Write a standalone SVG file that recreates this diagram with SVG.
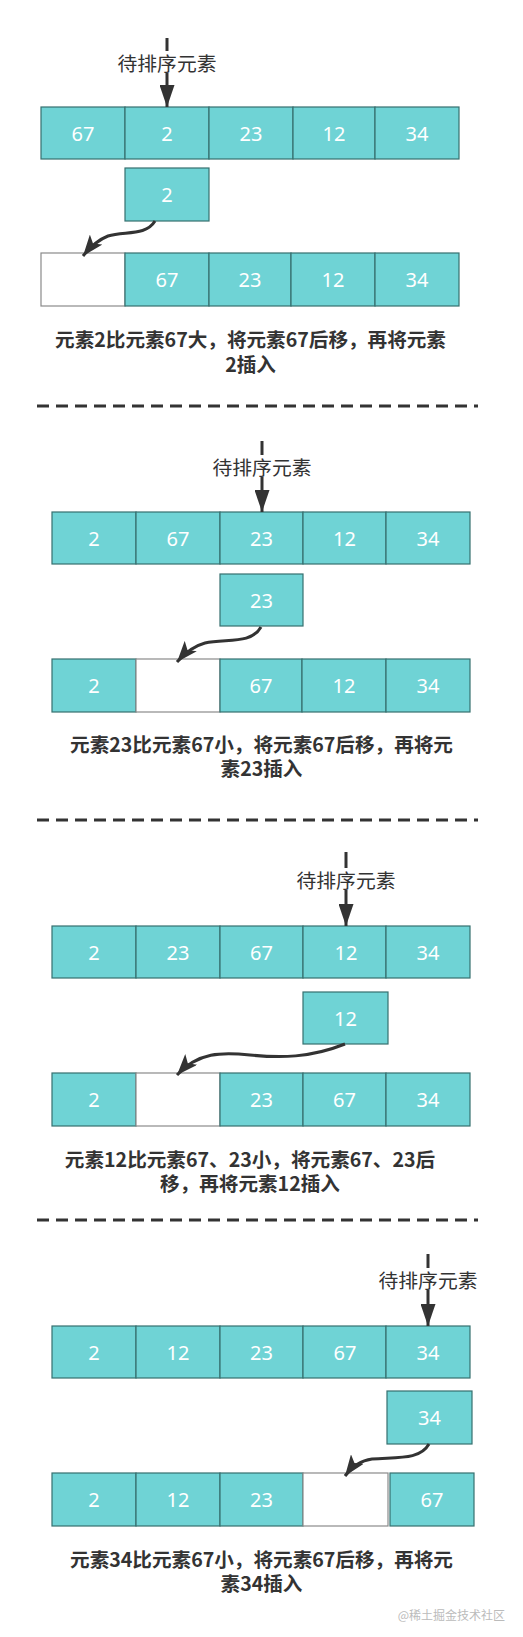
<svg xmlns="http://www.w3.org/2000/svg" width="523" height="1637" viewBox="0 0 523 1637">
<style>
.c{fill:#6fd3d5;stroke:#36706f;stroke-width:1.2}
.w{fill:#ffffff;stroke:#8a8a8a;stroke-width:1.2}
.t{font-family:"Noto Sans","Noto Sans CJK SC",sans-serif;font-size:20px;fill:#ffffff;text-anchor:middle;dominant-baseline:central}
.lb{font-family:"Noto Sans CJK SC",sans-serif;font-size:19.8px;fill:#333333;text-anchor:middle;dominant-baseline:central}
.cap{font-family:"Noto Sans CJK SC",sans-serif;font-size:19.6px;font-weight:bold;fill:#333333;text-anchor:middle;dominant-baseline:central}
.ln{fill:none;stroke:#333333;stroke-width:3}
.sep{fill:none;stroke:#333333;stroke-width:3;stroke-dasharray:12 7}
.wm{font-family:"Noto Sans CJK SC",sans-serif;font-size:12px;fill:#bbbbbb;text-anchor:end;dominant-baseline:central}
</style>
<defs>
<marker id="blk" markerUnits="userSpaceOnUse" viewBox="0 0 22 15" refX="22" refY="7.5" markerWidth="22" markerHeight="15" orient="auto">
<path d="M0,0 L22,7.5 L0,15 z" fill="#333333"/>
</marker>
<marker id="cls" markerUnits="userSpaceOnUse" viewBox="0 0 21 16" refX="21" refY="8" markerWidth="21" markerHeight="16" orient="auto">
<path d="M0,0 L21,8 L0,16 L5,8 z" fill="#333333"/>
</marker>
</defs>

<!-- Section 1 -->
<g id="s1-top">
<rect class="c" x="41" y="107" width="84" height="52"/><text class="t" x="83" y="133">67</text>
<rect class="c" x="125" y="107" width="84" height="52"/><text class="t" x="167" y="133">2</text>
<rect class="c" x="209" y="107" width="84" height="52"/><text class="t" x="251" y="133">23</text>
<rect class="c" x="293" y="107" width="82" height="52"/><text class="t" x="334" y="133">12</text>
<rect class="c" x="375" y="107" width="84" height="52"/><text class="t" x="417" y="133">34</text>
</g>
<g id="s1-pick">
<rect class="c" x="125" y="168" width="84" height="53"/><text class="t" x="167" y="194.5">2</text>
</g>
<g id="s1-bottom">
<rect class="w" x="41" y="253" width="84" height="53"/>
<rect class="c" x="125" y="253" width="84" height="53"/><text class="t" x="167" y="279.5">67</text>
<rect class="c" x="209" y="253" width="82" height="53"/><text class="t" x="250" y="279.5">23</text>
<rect class="c" x="291" y="253" width="84" height="53"/><text class="t" x="333" y="279.5">12</text>
<rect class="c" x="375" y="253" width="84" height="53"/><text class="t" x="417" y="279.5">34</text>
</g>
<g id="s1-caption">
<text class="cap" x="250.5" y="338">元素2比元素67大，将元素67后移，再将元素</text>
<text class="cap" x="250.5" y="363">2插入</text>
</g>

<!-- Section 2 -->
<g id="s2-top">
<rect class="c" x="52" y="512" width="84" height="52"/><text class="t" x="94" y="538">2</text>
<rect class="c" x="136" y="512" width="84" height="52"/><text class="t" x="178" y="538">67</text>
<rect class="c" x="220" y="512" width="83" height="52"/><text class="t" x="261.5" y="538">23</text>
<rect class="c" x="303" y="512" width="83" height="52"/><text class="t" x="344.5" y="538">12</text>
<rect class="c" x="386" y="512" width="84" height="52"/><text class="t" x="428" y="538">34</text>
</g>
<g id="s2-pick">
<rect class="c" x="220" y="574" width="83" height="52"/><text class="t" x="261.5" y="600">23</text>
</g>
<g id="s2-bottom">
<rect class="c" x="52" y="659" width="84" height="53"/><text class="t" x="94" y="685.5">2</text>
<rect class="w" x="136" y="659" width="84" height="53"/>
<rect class="c" x="220" y="659" width="82" height="53"/><text class="t" x="261" y="685.5">67</text>
<rect class="c" x="302" y="659" width="84" height="53"/><text class="t" x="344" y="685.5">12</text>
<rect class="c" x="386" y="659" width="84" height="53"/><text class="t" x="428" y="685.5">34</text>
</g>
<g id="s2-caption">
<text class="cap" x="261.5" y="743">元素23比元素67小，将元素67后移，再将元</text>
<text class="cap" x="261.5" y="767">素23插入</text>
</g>

<!-- Section 3 -->
<g id="s3-top">
<rect class="c" x="52" y="926" width="84" height="52"/><text class="t" x="94" y="952">2</text>
<rect class="c" x="136" y="926" width="84" height="52"/><text class="t" x="178" y="952">23</text>
<rect class="c" x="220" y="926" width="83" height="52"/><text class="t" x="261.5" y="952">67</text>
<rect class="c" x="303" y="926" width="83" height="52"/><text class="t" x="346" y="952">12</text>
<rect class="c" x="386" y="926" width="84" height="52"/><text class="t" x="428" y="952">34</text>
</g>
<g id="s3-pick">
<rect class="c" x="303" y="992" width="85" height="52"/><text class="t" x="345.5" y="1018">12</text>
</g>
<g id="s3-bottom">
<rect class="c" x="52" y="1073" width="84" height="53"/><text class="t" x="94" y="1099.5">2</text>
<rect class="w" x="136" y="1073" width="84" height="53"/>
<rect class="c" x="220" y="1073" width="83" height="53"/><text class="t" x="261.5" y="1099.5">23</text>
<rect class="c" x="303" y="1073" width="83" height="53"/><text class="t" x="344.5" y="1099.5">67</text>
<rect class="c" x="386" y="1073" width="84" height="53"/><text class="t" x="428" y="1099.5">34</text>
</g>
<g id="s3-caption">
<text class="cap" x="250" y="1158">元素12比元素67、23小，将元素67、23后</text>
<text class="cap" x="250" y="1182">移，再将元素12插入</text>
</g>

<!-- Section 4 -->
<g id="s4-top">
<rect class="c" x="52" y="1326" width="84" height="52"/><text class="t" x="94" y="1352">2</text>
<rect class="c" x="136" y="1326" width="84" height="52"/><text class="t" x="178" y="1352">12</text>
<rect class="c" x="220" y="1326" width="83" height="52"/><text class="t" x="261.5" y="1352">23</text>
<rect class="c" x="303" y="1326" width="83" height="52"/><text class="t" x="345" y="1352">67</text>
<rect class="c" x="386" y="1326" width="84" height="52"/><text class="t" x="428" y="1352">34</text>
</g>
<g id="s4-pick">
<rect class="c" x="387" y="1391" width="85" height="53"/><text class="t" x="429.5" y="1417.5">34</text>
</g>
<g id="s4-bottom">
<rect class="c" x="52" y="1473" width="84" height="53"/><text class="t" x="94" y="1499.5">2</text>
<rect class="c" x="136" y="1473" width="84" height="53"/><text class="t" x="178" y="1499.5">12</text>
<rect class="c" x="220" y="1473" width="83" height="53"/><text class="t" x="261.5" y="1499.5">23</text>
<rect class="w" x="303" y="1473" width="85" height="53"/>
<rect class="c" x="390" y="1473" width="84" height="53"/><text class="t" x="432" y="1499.5">67</text>
</g>
<g id="s4-caption">
<text class="cap" x="261.5" y="1558">元素34比元素67小，将元素67后移，再将元</text>
<text class="cap" x="261.5" y="1582">素34插入</text>
</g>

<!-- Separators -->
<g id="separators">
<line class="sep" x1="37" y1="406" x2="478" y2="406"/>
<line class="sep" x1="37" y1="820" x2="478" y2="820"/>
<line class="sep" x1="37" y1="1220" x2="478" y2="1220"/>
</g>

<!-- Connectors -->
<g id="connectors">
<line class="ln" x1="167" y1="38" x2="167" y2="107" marker-end="url(#blk)"/>
<rect x="116" y="51" width="102" height="22" fill="#ffffff"/>
<text class="lb" x="167" y="62">待排序元素</text>
<path class="ln" d="M155,221 C146,236 125,231 108,236 Q95,241 83,256" marker-end="url(#cls)"/>

<line class="ln" x1="262" y1="441" x2="262" y2="512" marker-end="url(#blk)"/>
<rect x="211" y="455" width="102" height="22" fill="#ffffff"/>
<text class="lb" x="262" y="466">待排序元素</text>
<path class="ln" d="M261,627 C251,645 225,638 205,643 Q190,647 177,662" marker-end="url(#cls)"/>

<line class="ln" x1="346" y1="852" x2="346" y2="926" marker-end="url(#blk)"/>
<rect x="295" y="868" width="102" height="22" fill="#ffffff"/>
<text class="lb" x="346" y="879">待排序元素</text>
<path class="ln" d="M345,1044 C310,1058 280,1058 250,1055 C222,1052 198,1052 177,1075" marker-end="url(#cls)"/>

<line class="ln" x1="428" y1="1254" x2="428" y2="1326" marker-end="url(#blk)"/>
<rect x="377" y="1268" width="102" height="22" fill="#ffffff"/>
<text class="lb" x="428" y="1279">待排序元素</text>
<path class="ln" d="M429,1444 C420,1460 398,1457 372,1459 Q356,1461 345,1476" marker-end="url(#cls)"/>
</g>

<text class="wm" x="505" y="1614">@稀土掘金技术社区</text>
</svg>
